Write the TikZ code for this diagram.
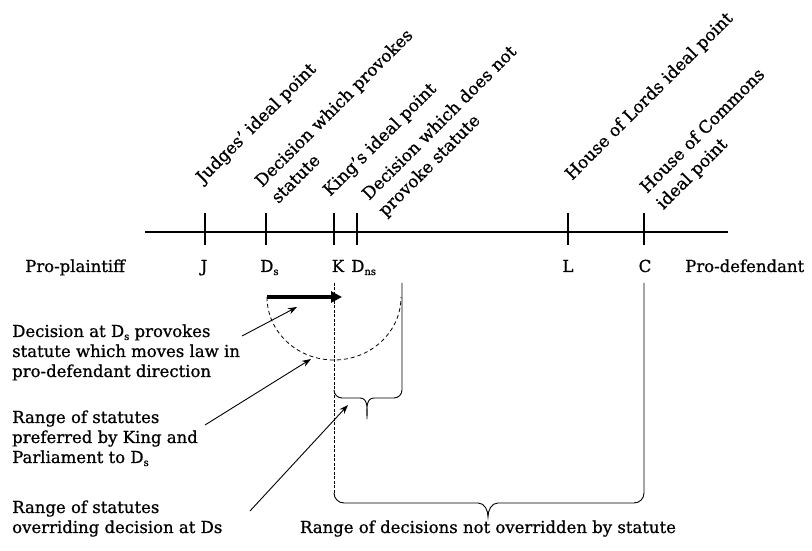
\documentclass[tikz,border=0pt]{standalone}
\usepackage{fontspec}
\setmainfont{DejaVu Serif}[FakeBold=0.8]
\usetikzlibrary{arrows.meta}
\newcommand\subx[1]{\raisebox{-0.35ex}{\fontsize{10}{10}\selectfont #1}}
\newcommand\mylines[1]{\begin{tabular}[t]{@{}l@{}}#1\end{tabular}}
\begin{document}
\begin{tikzpicture}[x=1pt,y=1pt,
  lbl/.style={inner sep=0pt, font=\fontsize{16.5}{20}\selectfont},
  rlbl/.style={inner sep=0pt, rotate=45, anchor=base west, font=\fontsize{17}{23}\selectfont},
  axisln/.style={line width=1.1pt},
  tickln/.style={line width=1.1pt},
  ptr/.style={line width=0.9pt, -{Stealth[length=9pt,width=6.5pt]}},
  bigarrow/.style={line width=3.6pt, -{Triangle[length=11pt,width=11pt]}},
  dsh/.style={line width=0.8pt, dash pattern=on 4pt off 3pt},
  kdash/.style={line width=0.8pt, dash pattern=on 3pt off 1.5pt},
  brc/.style={line width=0.9pt}]
\useasboundingbox (0,0) rectangle (812,551);

% axis
\coordinate (axL) at (145,319);
\coordinate (axR) at (728,319);
\draw[axisln] (axL) -- (axR);

% ticks
\foreach \n/\x in {tJ/205, tDs/266, tK/334, tDns/357, tL/568, tC/644}{
  \coordinate (\n top) at (\x,338);
  \coordinate (\n bot) at (\x,306);
  \draw[tickln] (\n top) -- (\n bot);
}

% rotated labels
\node[rlbl] (judges) at (203,367) {Judges’ ideal point};
\node[rlbl] (provokes) at (262,363) {\mylines{Decision which provokes\\statute}};
\node[rlbl] (king) at (330,354) {King’s ideal point};
\node[rlbl] (notprov) at (369,350) {\mylines{Decision which does not\\provoke statute}};
\node[rlbl] (lords) at (572,370) {House of Lords ideal point};
\node[rlbl] (commons) at (647,357) {\mylines{House of Commons\\ideal point}};

% axis labels
\node[lbl, anchor=base west] (pp) at (25,279) {Pro-plaintiff};
\node[lbl, anchor=base] (J) at (204,279) {J};
\node[lbl, anchor=base west] (Ds) at (260,279) {D\subx{s}};
\node[lbl, anchor=base] (K) at (338,279) {K};
\node[lbl, anchor=base west] (Dns) at (351,279) {D\subx{ns}};
\node[lbl, anchor=base] (L) at (568,279) {L};
\node[lbl, anchor=base] (C) at (645,279) {C};
\node[lbl, anchor=base west] (pd) at (685,279) {Pro-defendant};

% thick arrow
\coordinate (arrS) at (267,254);
\coordinate (arrE) at (342,254);
\draw[bigarrow] (arrS) -- (arrE);

% dashed arc
\draw[dsh] (arrS) arc[start angle=180, end angle=360, x radius=67, y radius=63];

% K dashed line (left arm of braces)
\coordinate (kTop) at (334,268);
\coordinate (kBot) at (334,58);
\draw[kdash] (kTop) -- (kBot);

% small brace
\draw[brc] (402,268) -- (402,161) to[out=-90,in=0] (394,153) -- (374,153)
  to[out=180,in=90] (367,132) coordinate (sTip) to[out=90,in=0] (360,153) -- (342,153)
  to[out=180,in=-90] (334,161);

% big brace
\draw[brc] (644,268) -- (644,58) to[out=-90,in=0] (634,48) -- (498,48)
  to[out=180,in=90] (488,34) coordinate (bTip) to[out=90,in=0] (478,48) -- (344,48)
  to[out=180,in=-90] (334,58);

% left annotations
\node[lbl, anchor=base west] (a1) at (12,214) {\mylines{Decision at D\subx{s} provokes\\statute which moves law in\\pro-defendant direction}};
\node[lbl, anchor=base west] (a2) at (12,128) {\mylines{Range of statutes\\preferred by King and\\Parliament to D\subx{s}}};
\node[lbl, anchor=base west] (a3) at (12,38) {\mylines{Range of statutes\\overriding decision at Ds}};
\node[lbl, anchor=base] (a4) at (488,18) {Range of decisions not overridden by statute};

% pointer arrows
\coordinate (p1s) at (242,215);
\coordinate (p1e) at (297,244);
\coordinate (p2s) at (205,126);
\coordinate (p2e) at (311,192);
\coordinate (p3s) at (250,40);
\coordinate (p3e) at (348,146);
\draw[ptr] (p1s) -- (p1e);
\draw[ptr] (p2s) -- (p2e);
\draw[ptr] (p3s) -- (p3e);
\end{tikzpicture}
\end{document}
